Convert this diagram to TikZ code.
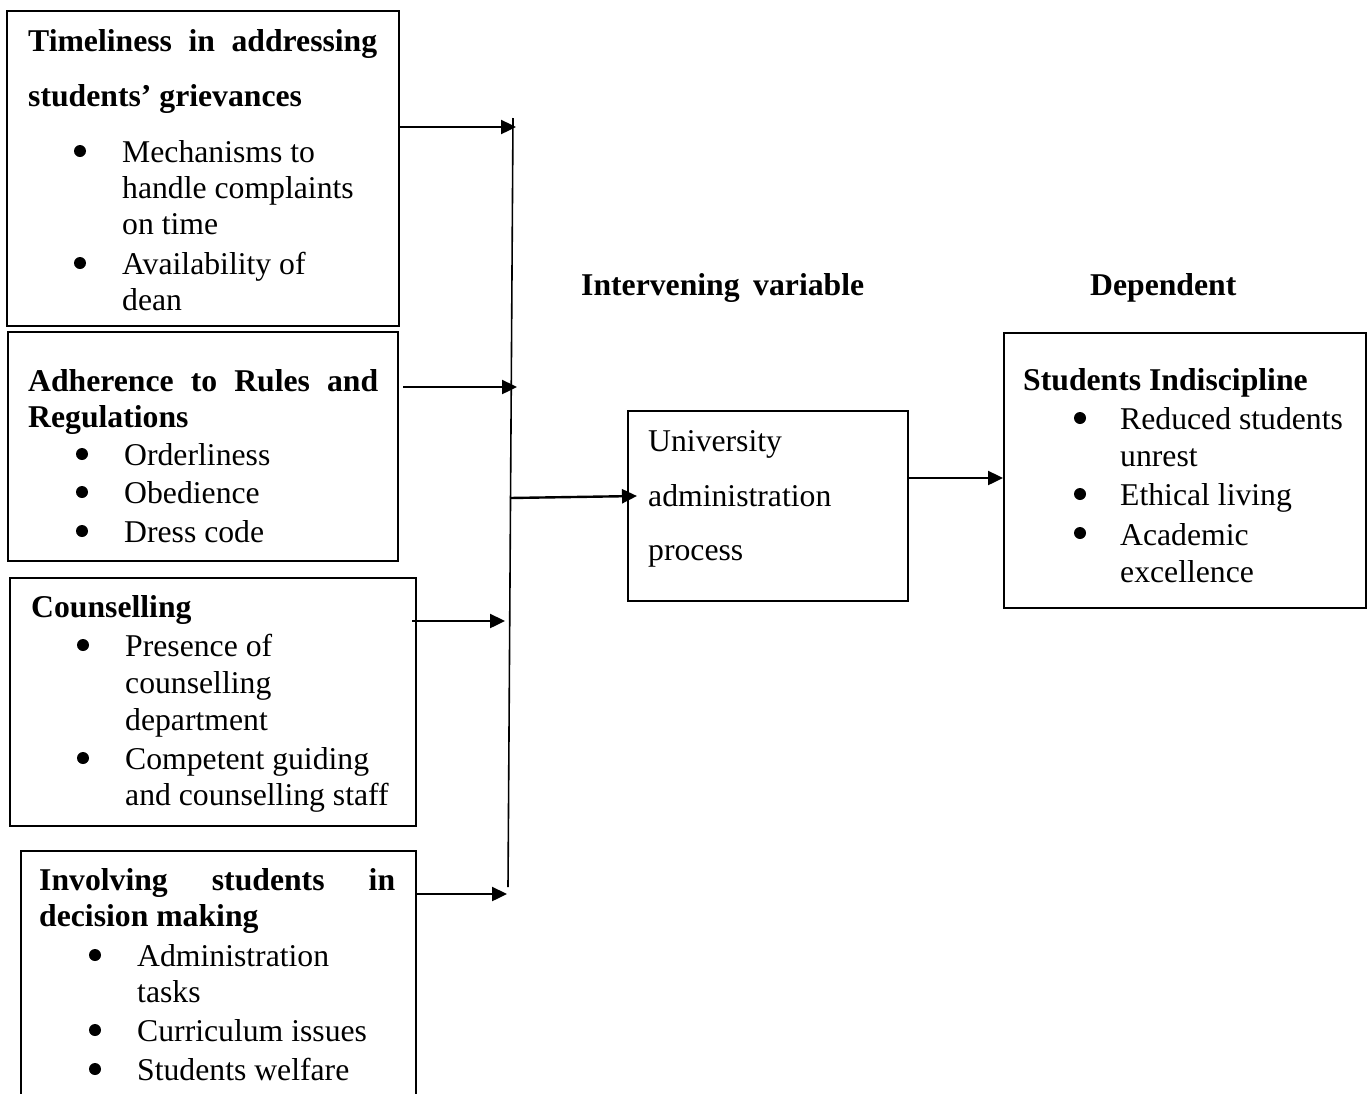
\documentclass[tikz,border=0pt]{standalone}
\usepackage{fontspec}
\setmainfont{Liberation Serif}
\usetikzlibrary{arrows.meta}
\begin{document}
\begin{tikzpicture}[x=1pt,y=-1pt,
  frame/.style={draw, line width=2pt, inner sep=0pt, anchor=north west},
  txt/.style={anchor=base west, inner sep=0pt, font=\fontsize{31.7}{36}\selectfont},
  ttl/.style={anchor=base west, inner sep=0pt, font=\fontsize{31.7}{36}\selectfont\bfseries},
  arr/.style={line width=2.4pt, -{Triangle[length=15pt,width=14pt]}},
  bus/.style={line width=1.6pt},
  dot/.style={fill, circle, inner sep=0pt, minimum size=12pt}]
\clip (0,0) rectangle (1371,1093);
\useasboundingbox (0,0) rectangle (1371,1093);

% ---------- boxes ----------
\node[frame, minimum width=392pt, minimum height=315pt] (b1) at (6,10) {};
\node[frame, minimum width=390pt, minimum height=229pt] (b2) at (7,331) {};
\node[frame, minimum width=406pt, minimum height=248pt] (b3) at (9,577) {};
\node[frame, minimum width=395pt, minimum height=270pt] (b4) at (20,850) {};
\node[frame, minimum width=280pt, minimum height=190pt] (ub) at (627,410) {};
\node[frame, minimum width=362pt, minimum height=275pt] (db) at (1003,332) {};

% ---------- box 1 ----------
\node[ttl] (t1a) at (28,51) {\hbox to 349pt{Timeliness\hfill in\hfill addressing}};
\node[ttl] (t1b) at (28,106) {students’ grievances};
\node[dot] (d1a) at (80,151) {};
\node[txt] (t1c) at (122,162) {Mechanisms to};
\node[txt] (t1d) at (122,198) {handle complaints};
\node[txt] (t1e) at (122,234) {on time};
\node[dot] (d1b) at (80,263) {};
\node[txt] (t1f) at (122,274) {Availability of};
\node[txt] (t1g) at (122,310) {dean};

% ---------- box 2 ----------
\node[ttl] (t2a) at (28,391) {\hbox to 350pt{Adherence\hfill to\hfill Rules\hfill and}};
\node[ttl] (t2b) at (28,427) {Regulations};
\node[dot] (d2a) at (82,454) {};
\node[txt] (t2c) at (124,465) {Orderliness};
\node[dot] (d2b) at (82,492) {};
\node[txt] (t2d) at (124,503) {Obedience};
\node[dot] (d2c) at (82,531) {};
\node[txt] (t2e) at (124,542) {Dress code};

% ---------- box 3 ----------
\node[ttl] (t3a) at (31,617) {Counselling};
\node[dot] (d3a) at (83,645) {};
\node[txt] (t3b) at (125,656) {Presence of};
\node[txt] (t3c) at (125,693) {counselling};
\node[txt] (t3d) at (125,730) {department};
\node[dot] (d3b) at (83,758) {};
\node[txt] (t3e) at (125,769) {Competent guiding};
\node[txt] (t3f) at (125,805) {and counselling staff};

% ---------- box 4 ----------
\node[ttl] (t4a) at (39,890) {\hbox to 356pt{Involving\hfill students\hfill in}};
\node[ttl] (t4b) at (39,926) {decision making};
\node[dot] (d4a) at (95,955) {};
\node[txt] (t4c) at (137,966) {Administration};
\node[txt] (t4d) at (137,1002) {tasks};
\node[dot] (d4b) at (95,1030) {};
\node[txt] (t4e) at (137,1041) {Curriculum issues};
\node[dot] (d4c) at (95,1069) {};
\node[txt] (t4f) at (137,1080) {Students welfare};

% ---------- labels ----------
\node[ttl] (lint) at (581,295) {\hbox to 283pt{Intervening\hfill variable}};
\node[ttl] (ldep) at (1090,295) {Dependent};

% ---------- university box ----------
\node[txt] (u1) at (648,451) {University};
\node[txt] (u2) at (648,506) {administration};
\node[txt] (u3) at (648,560) {process};

% ---------- dependent box ----------
\node[ttl] (da) at (1023,390) {Students Indiscipline};
\node[dot] (dd1) at (1080,418) {};
\node[txt] (db1) at (1120,429) {Reduced students};
\node[txt] (db2) at (1120,466) {unrest};
\node[dot] (dd2) at (1080,494) {};
\node[txt] (db3) at (1120,505) {Ethical living};
\node[dot] (dd3) at (1080,533) {};
\node[txt] (db4) at (1120,545) {Academic};
\node[txt] (db5) at (1120,582) {excellence};

% ---------- connectors ----------
\coordinate (bt) at (513,118);
\coordinate (bb) at (508,887);
\draw[bus] (bt) -- (bb);

\coordinate (e1) at (516,127);
\coordinate (e2) at (517,387);
\coordinate (e3) at (505,621);
\coordinate (e4) at (507,894);
\coordinate (s5) at (510,498);
\coordinate (e5) at (637,496);
\coordinate (e6) at (1003,478);

\draw[arr] (b1.east |- e1) -- (e1);
\draw[arr] ([xshift=4pt]b2.east |- e2) -- (e2);
\draw[arr] ([xshift=-5pt]b3.east |- e3) -- (e3);
\draw[arr] (b4.east |- e4) -- (e4);
\draw[arr] (s5) -- (e5);
\draw[arr] (ub.east |- e6) -- (e6);
\end{tikzpicture}
\end{document}
